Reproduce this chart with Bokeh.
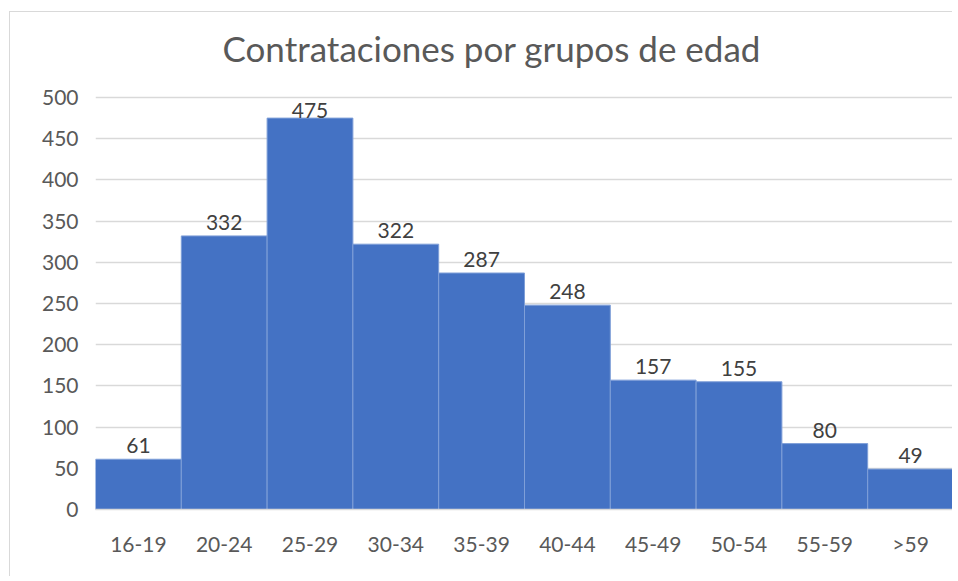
from bokeh.plotting import figure
from bokeh.models import FactorRange, Range1d, ColumnDataSource, Label
from bokeh.embed import file_html
from bokeh.resources import INLINE
from bokeh.core.properties import value

title_text = "Contrataciones por grupos de edad"
categories = ["16-19", "20-24", "25-29", "30-34", "35-39", "40-44", "45-49", "50-54", "55-59", ">59"]
hires = [61, 332, 475, 322, 287, 248, 157, 155, 80, 49]
y_ticks = [0, 50, 100, 150, 200, 250, 300, 350, 400, 450, 500]

FONT = "Lato"
TXT = "#595959"

y_max = 500
label_offsets = [0 if v > 0.92 * y_max else -6 for v in hires]

# layout (pixels)
W, H = 943, 565
BOTTOM = 68
AXIS_SPAN_PX = 412          # height of the 0..500 band
frame_h = H - BOTTOM        # frame also hosts the title band above 500
y_top = y_max * frame_h / AXIS_SPAN_PX

src = ColumnDataSource(dict(cat=categories, val=hires, lab=[str(v) for v in hires], off=label_offsets))

p = figure(x_range=FactorRange(*categories), y_range=Range1d(0, y_top),
           width=W, height=H, output_backend="svg", toolbar_location=None)
p.margin = (11, 0, 0, 9)
p.styles = {"border-left": "1px solid #d9d9d9", "border-top": "1px solid #d9d9d9"}
p.min_border_left = 85
p.min_border_top = 0
p.min_border_right = 0
p.min_border_bottom = BOTTOM
p.outline_line_color = None
p.background_fill_color = "white"
p.border_fill_color = "white"

p.add_layout(Label(x=127, y=frame_h - 35, x_units="screen", y_units="screen", text=title_text,
                   text_align="left", text_baseline="alphabetic",
                   text_font=FONT, text_font_size="35px", text_color=TXT))

p.vbar(x="cat", top="val", width=1.0, source=src, fill_color="#4472C4",
       line_color="#7f9fd8", line_width=1)

p.text(x="cat", y="val", text="lab", source=src, y_offset="off",
       text_align="center", text_baseline="bottom",
       text_font=value(FONT), text_font_size="21px", text_color="#404040")

p.xgrid.grid_line_color = None
p.ygrid.grid_line_color = "#d9d9d9"
p.ygrid.grid_line_width = 1.5
p.yaxis.ticker = y_ticks
p.yaxis.axis_line_color = None
p.yaxis.major_tick_line_color = None
p.yaxis.minor_tick_line_color = None
p.yaxis.major_label_text_font = FONT
p.yaxis.major_label_text_font_size = "21px"
p.yaxis.major_label_text_color = TXT
p.yaxis.major_label_standoff = 11

p.xaxis.axis_line_color = "#d9d9d9"
p.xaxis.axis_line_width = 1.5
p.xaxis.major_tick_line_color = None
p.xaxis.minor_tick_line_color = None
p.xaxis.major_label_text_font = FONT
p.xaxis.major_label_text_font_size = "21px"
p.xaxis.major_label_text_color = TXT
p.xaxis.major_label_standoff = 15
p.x_range.range_padding = 0

open("out.html", "w").write(file_html(p, INLINE))
